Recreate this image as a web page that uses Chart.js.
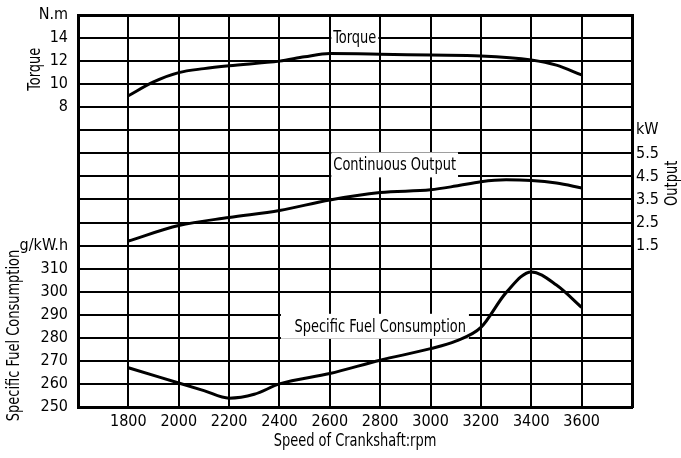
<!DOCTYPE html>
<html>
<head>
<meta charset="utf-8">
<script src="https://cdn.jsdelivr.net/npm/chart.js"></script>
<style>
  html, body { margin: 0; padding: 0; background: #fff; }
  canvas { display: block; }
</style>
</head>
<body>
<canvas id="c" width="681" height="458"></canvas>
<script>
// ---- data ----
const torqueRpm = [1800, 1900, 2000, 2100, 2200, 2400, 2500, 2600, 2800, 3000, 3200, 3400, 3500, 3600];
const torqueNm  = [9.0, 10.2, 11.0, 11.35, 11.6, 12.0, 12.37, 12.65, 12.6, 12.52, 12.45, 12.1, 11.65, 10.8];

const outputRpm = [1800, 2000, 2200, 2400, 2600, 2800, 3000, 3100, 3200, 3300, 3400, 3500, 3600];
const outputKw  = [1.70, 2.37, 2.72, 3.02, 3.48, 3.80, 3.92, 4.08, 4.27, 4.35, 4.32, 4.21, 4.0];

const sfcRpm = [1800, 2000, 2100, 2200, 2300, 2400, 2600, 2800, 3000, 3100, 3200, 3300, 3400, 3500, 3600];
const sfcVal = [267.0, 260.4, 257.1, 253.8, 255.5, 260.0, 264.5, 270.3, 275.3, 278.6, 284.5, 299.6, 308.6, 302.9, 293.2];

const xTickLabels   = [1800, 2000, 2200, 2400, 2600, 2800, 3000, 3200, 3400, 3600];
const torqueTicks   = [8, 10, 12, 14];
const sfcTicks      = [250, 260, 270, 280, 290, 300, 310];
const outputTicks   = [1.5, 2.5, 3.5, 4.5, 5.5];
const unitLabels    = { torque: 'N.m', sfc: 'g/kW.h', output: 'kW' };
const seriesNames   = ['Torque', 'Continuous Output', 'Specific Fuel Consumption'];
const axisTitles    = { x: 'Speed of Crankshaft:rpm', torque: 'Torque', sfc: 'Specific Fuel Consumption', output: 'Output' };

// axis ranges (chosen so the three value scales share one grid)
const X_RANGE   = [1600, 3800];
const SFC_RANGE = [250, 420];
const TQ_RANGE  = [-18, 16];
const OUT_RANGE = [-5.5, 11.5];

// ---- styling ----
const FONT = '"Liberation Sans Narrow", "DejaVu Sans Condensed", Arial, sans-serif';
const FS = 16;
const FS_TXT = 17;
const SX = 0.85; // horizontal condensing for free text
const near = (a, b) => Math.abs(a - b) < 1e-6;
const pts = (xs, ys) => xs.map((x, i) => ({ x, y: ys[i] }));
const sfcToTorque = v => TQ_RANGE[0] + (v - SFC_RANGE[0]) / (SFC_RANGE[1] - SFC_RANGE[0]) * (TQ_RANGE[1] - TQ_RANGE[0]);

const lineStyle = {
  borderColor: '#000', borderWidth: 3, pointRadius: 0, fill: false,
  cubicInterpolationMode: 'monotone'
};

function condensedText(ctx, text, x, y, rot) {
  ctx.save();
  ctx.translate(x, y);
  if (rot) ctx.rotate(rot);
  ctx.scale(SX, 1);
  ctx.textAlign = 'center';
  ctx.textBaseline = 'middle';
  ctx.fillText(text, 0, 0);
  ctx.restore();
}

const annotPlugin = {
  id: 'annot',
  beforeDatasetsDraw(chart) {
    const { ctx, scales } = chart;
    const xs = scales.x;
    const defs = [
      { text: seriesNames[0], axis: 'yTorque', y: 14, from: 2600 },
      { text: seriesNames[1], axis: 'yOut', y: 5.0, from: 2600 },
      { text: seriesNames[2], axis: 'ySfc', y: 285, from: 2400, to: 3200 }
    ];
    ctx.save();
    ctx.font = FS_TXT + 'px ' + FONT;
    defs.forEach(d => {
      const yp = scales[d.axis].getPixelForValue(d.y);
      const x0 = xs.getPixelForValue(d.from) + 1.5;
      const tw = ctx.measureText(d.text).width * SX;
      let cx, right;
      if (d.to !== undefined) {
        cx = (xs.getPixelForValue(d.from) + xs.getPixelForValue(d.to)) / 2;
        right = cx + tw / 2 + 3;
      } else {
        cx = x0 + 2 + tw / 2;
        right = x0 + 2 + tw + 2;
      }
      ctx.fillStyle = '#fff';
      ctx.fillRect(x0, yp - 12.5, right - x0, 25);
      ctx.fillStyle = '#000';
      condensedText(ctx, d.text, cx, yp + 1, 0);
    });
    ctx.restore();
  },
  afterDraw(chart) {
    const { ctx, scales, chartArea } = chart;
    ctx.save();
    ctx.font = FS_TXT + 'px ' + FONT;
    ctx.fillStyle = '#000';
    condensedText(ctx, axisTitles.torque, 36, scales.yTorque.getPixelForValue(11.3), -Math.PI / 2);
    condensedText(ctx, axisTitles.sfc, 15, scales.ySfc.getPixelForValue(281), -Math.PI / 2);
    condensedText(ctx, axisTitles.output, 673, scales.yOut.getPixelForValue(4.2), -Math.PI / 2);
    condensedText(ctx, axisTitles.x, (chartArea.left + chartArea.right) / 2, chartArea.bottom + 35, 0);
    ctx.restore();
  }
};

const tickFont = { family: FONT, size: FS };
const hiddenTick = { drawTicks: true, tickLength: 5, tickColor: 'rgba(0,0,0,0)' };

new Chart(document.getElementById('c'), {
  type: 'line',
  data: {
    datasets: [
      { ...lineStyle, label: seriesNames[0], data: pts(torqueRpm, torqueNm), yAxisID: 'yTorque' },
      { ...lineStyle, label: seriesNames[1], data: pts(outputRpm, outputKw), yAxisID: 'yOut' },
      { ...lineStyle, label: seriesNames[2], data: pts(sfcRpm, sfcVal), yAxisID: 'ySfc' }
    ]
  },
  options: {
    responsive: false,
    animation: false,
    devicePixelRatio: 1,
    layout: { padding: { top: 15, left: 0, right: 0, bottom: 0 } },
    plugins: { legend: { display: false }, tooltip: { enabled: false } },
    scales: {
      x: {
        type: 'linear', min: X_RANGE[0], max: X_RANGE[1],
        ticks: {
          stepSize: 200, autoSkip: false, maxRotation: 0, color: '#000', font: tickFont, padding: 5,
          callback: v => xTickLabels.some(t => near(t, v)) ? String(v) : ''
        },
        grid: { color: '#000', lineWidth: c => (c.tick && (c.tick.value === X_RANGE[1])) ? 3 : 2, drawTicks: false },
        border: { display: true, color: '#000', width: 3 },
        afterFit: s => { s.height = 51; }
      },
      ySfc: {
        type: 'linear', position: 'left', min: SFC_RANGE[0], max: SFC_RANGE[1],
        ticks: {
          stepSize: 10, autoSkip: false, color: '#000', font: tickFont, padding: 5,
          callback: v => {
            if (sfcTicks.some(t => near(t, v))) return String(v);
            if (near(v, 320)) return unitLabels.sfc;
            const t = sfcToTorque(v);
            if (torqueTicks.some(k => near(k, t))) return String(Math.round(t));
            if (near(t, TQ_RANGE[1])) return unitLabels.torque;
            return '';
          }
        },
        grid: { color: '#000', lineWidth: c => (c.tick && c.tick.value === SFC_RANGE[1]) ? 3 : 2, ...hiddenTick },
        border: { display: true, color: '#000', width: 3 },
        afterFit: s => { s.width = 78; }
      },
      yTorque: {
        type: 'linear', position: 'left', display: false, min: TQ_RANGE[0], max: TQ_RANGE[1]
      },
      yOut: {
        type: 'linear', position: 'right', min: OUT_RANGE[0], max: OUT_RANGE[1],
        ticks: {
          stepSize: 1, autoSkip: false, color: '#000', font: tickFont, padding: 4,
          callback: v => outputTicks.some(t => near(t, v)) ? String(v) : (near(v, 6.5) ? unitLabels.output : '')
        },
        grid: { display: false, drawTicks: false },
        border: { display: true, color: '#000', width: 3 },
        afterFit: s => { s.width = 49; }
      }
    }
  },
  plugins: [annotPlugin]
});
</script>
</body>
</html>
